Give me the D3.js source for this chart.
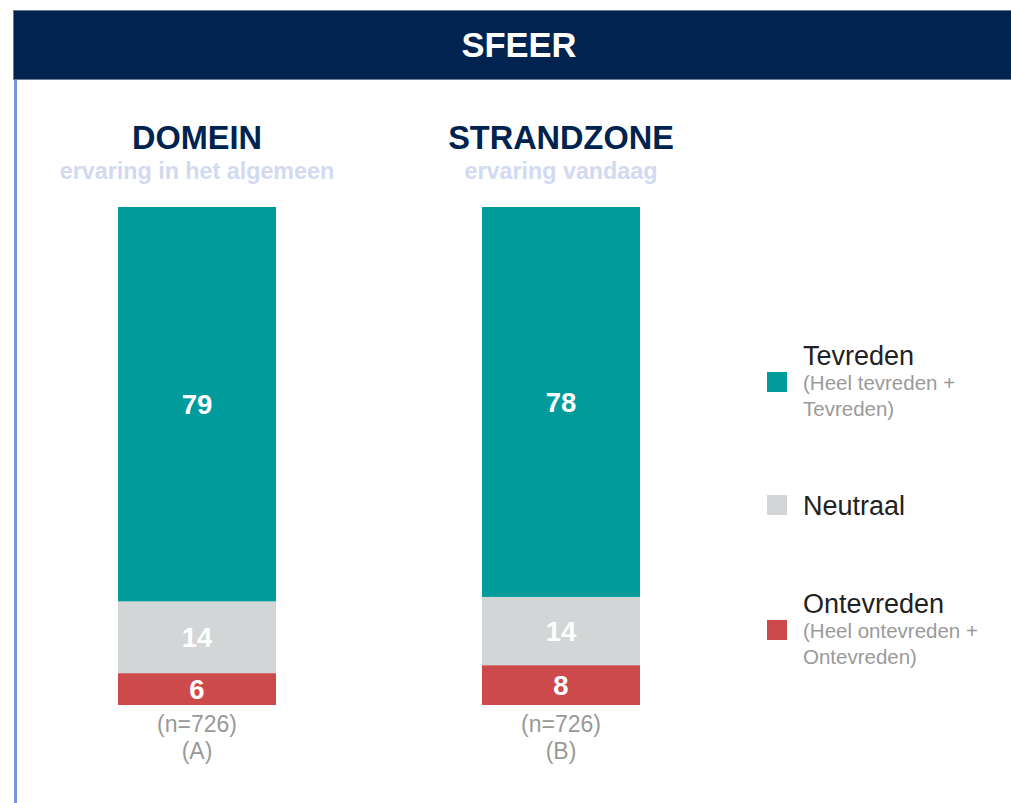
<!DOCTYPE html>
<html>
<head>
<meta charset="utf-8">
<script src="https://cdn.jsdelivr.net/npm/d3@7"></script>
<style>
  html, body { margin: 0; padding: 0; background: #fff; }
  svg { display: block; font-family: 'Liberation Sans', Arial, sans-serif; }
</style>
</head>
<body>
<div id="chart"></div>
<script>
// Chart data (shares in %, labels shown rounded).
var groups = ['A', 'B'];
var titles = ['DOMEIN', 'STRANDZONE'];
var subtitles = ['ervaring in het algemeen', 'ervaring vandaag'];
var sampleSizes = ['(n=726)', '(n=726)'];
var categories = ['Ontevreden', 'Neutraal', 'Tevreden'];
var ontevreden = [6.4, 8.0];
var neutraal = [14.4, 13.7];
var tevreden = [79.2, 78.3];
var legendNames = ['Tevreden', 'Neutraal', 'Ontevreden'];
var legendNotes = [['(Heel tevreden +', 'Tevreden)'], [], ['(Heel ontevreden +', 'Ontevreden)']];

var palette = {Tevreden: '#009b9a', Neutraal: '#d3d6d7', Ontevreden: '#cc4a4b'};

var W = 1011, H = 803;
var svg = d3.select('#chart').append('svg')
    .attr('width', W)
    .attr('height', H);

// Header band.
svg.append('rect')
    .attr('x', 13.5).attr('y', 10.5)
    .attr('width', W).attr('height', 69)
    .attr('fill', '#00234f')
    .attr('stroke', '#6a7b9a').attr('stroke-width', 1);
svg.append('text')
    .attr('x', 519).attr('y', 57)
    .attr('text-anchor', 'middle')
    .attr('fill', '#ffffff')
    .style('font-size', '34.5px').style('font-weight', 'bold')
    .text('SFEER');

// Left border line.
svg.append('line')
    .attr('x1', 15.5).attr('x2', 15.5)
    .attr('y1', 80).attr('y2', H)
    .attr('stroke', '#7d92dc').attr('stroke-width', 3);

// Build the table for the stack.
var table = groups.map(function (g, i) {
    return {group: g, Ontevreden: ontevreden[i], Neutraal: neutraal[i], Tevreden: tevreden[i]};
});
var stacked = d3.stack().keys(categories)(table);

// Scales.
var xScale = d3.scalePoint().domain(groups).range([197, 561]);
var barWidth = 158;
var yScale = d3.scaleLinear().domain([0, 100]).range([705, 207]);

// Bars.
var layers = svg.selectAll('.layer')
    .data(stacked)
    .enter()
    .append('g')
    .attr('class', 'layer')
    .attr('fill', function (d) { return palette[d.key]; });

layers.selectAll('rect')
    .data(function (d) { return d; })
    .enter()
    .append('rect')
    .attr('x', function (d) { return xScale(d.data.group) - barWidth / 2; })
    .attr('y', function (d) { return yScale(d[1]); })
    .attr('width', barWidth)
    .attr('height', function (d) { return yScale(d[0]) - yScale(d[1]); });

// Value labels.
stacked.forEach(function (layer) {
    svg.selectAll('.lbl-' + layer.key)
        .data(layer)
        .enter()
        .append('text')
        .attr('x', function (d) { return xScale(d.data.group); })
        .attr('y', function (d) { return (yScale(d[0]) + yScale(d[1])) / 2; })
        .attr('dy', '0.36em')
        .attr('text-anchor', 'middle')
        .attr('fill', '#ffffff')
        .style('font-size', '27.5px').style('font-weight', 'bold')
        .text(function (d) { return d3.format('.0f')(d[1] - d[0]); });
});

// Titles above the bars.
groups.forEach(function (g, i) {
    svg.append('text')
        .attr('x', xScale(g)).attr('y', 149)
        .attr('text-anchor', 'middle')
        .attr('fill', '#00234f')
        .style('font-size', '32.5px').style('font-weight', 'bold')
        .text(titles[i]);
    svg.append('text')
        .attr('x', xScale(g)).attr('y', 179)
        .attr('text-anchor', 'middle')
        .attr('fill', '#d2daf2')
        .style('font-size', '23.3px').style('font-weight', 'bold')
        .text(subtitles[i]);
    // Sample size and group letter.
    svg.append('text')
        .attr('x', xScale(g)).attr('y', 732)
        .attr('text-anchor', 'middle')
        .attr('fill', '#999999')
        .style('font-size', '23px')
        .text(sampleSizes[i]);
    svg.append('text')
        .attr('x', xScale(g)).attr('y', 759)
        .attr('text-anchor', 'middle')
        .attr('fill', '#999999')
        .style('font-size', '23px')
        .text('(' + g + ')');
});

// Legend.
var legendY = [365, 515, 613];
var legend = svg.selectAll('.legend')
    .data(legendNames)
    .enter()
    .append('g')
    .attr('class', 'legend')
    .attr('transform', function (d, i) { return 'translate(767,' + legendY[i] + ')'; });

legend.append('rect')
    .attr('x', 0)
    .attr('y', function (d, i) { return i === 1 ? -20 : 7; })
    .attr('width', 20).attr('height', 20)
    .attr('fill', function (d) { return palette[d]; });

legend.append('text')
    .attr('x', 36).attr('y', 0)
    .attr('fill', '#222222')
    .style('font-size', '27px')
    .text(function (d) { return d; });

legend.each(function (d, i) {
    d3.select(this).selectAll('.note')
        .data(legendNotes[i])
        .enter()
        .append('text')
        .attr('class', 'note')
        .attr('x', 36)
        .attr('y', function (n, j) { return 25 + j * 26; })
        .attr('fill', '#9a9a9a')
        .style('font-size', '20.5px')
        .text(function (n) { return n; });
});
</script>
</body>
</html>
